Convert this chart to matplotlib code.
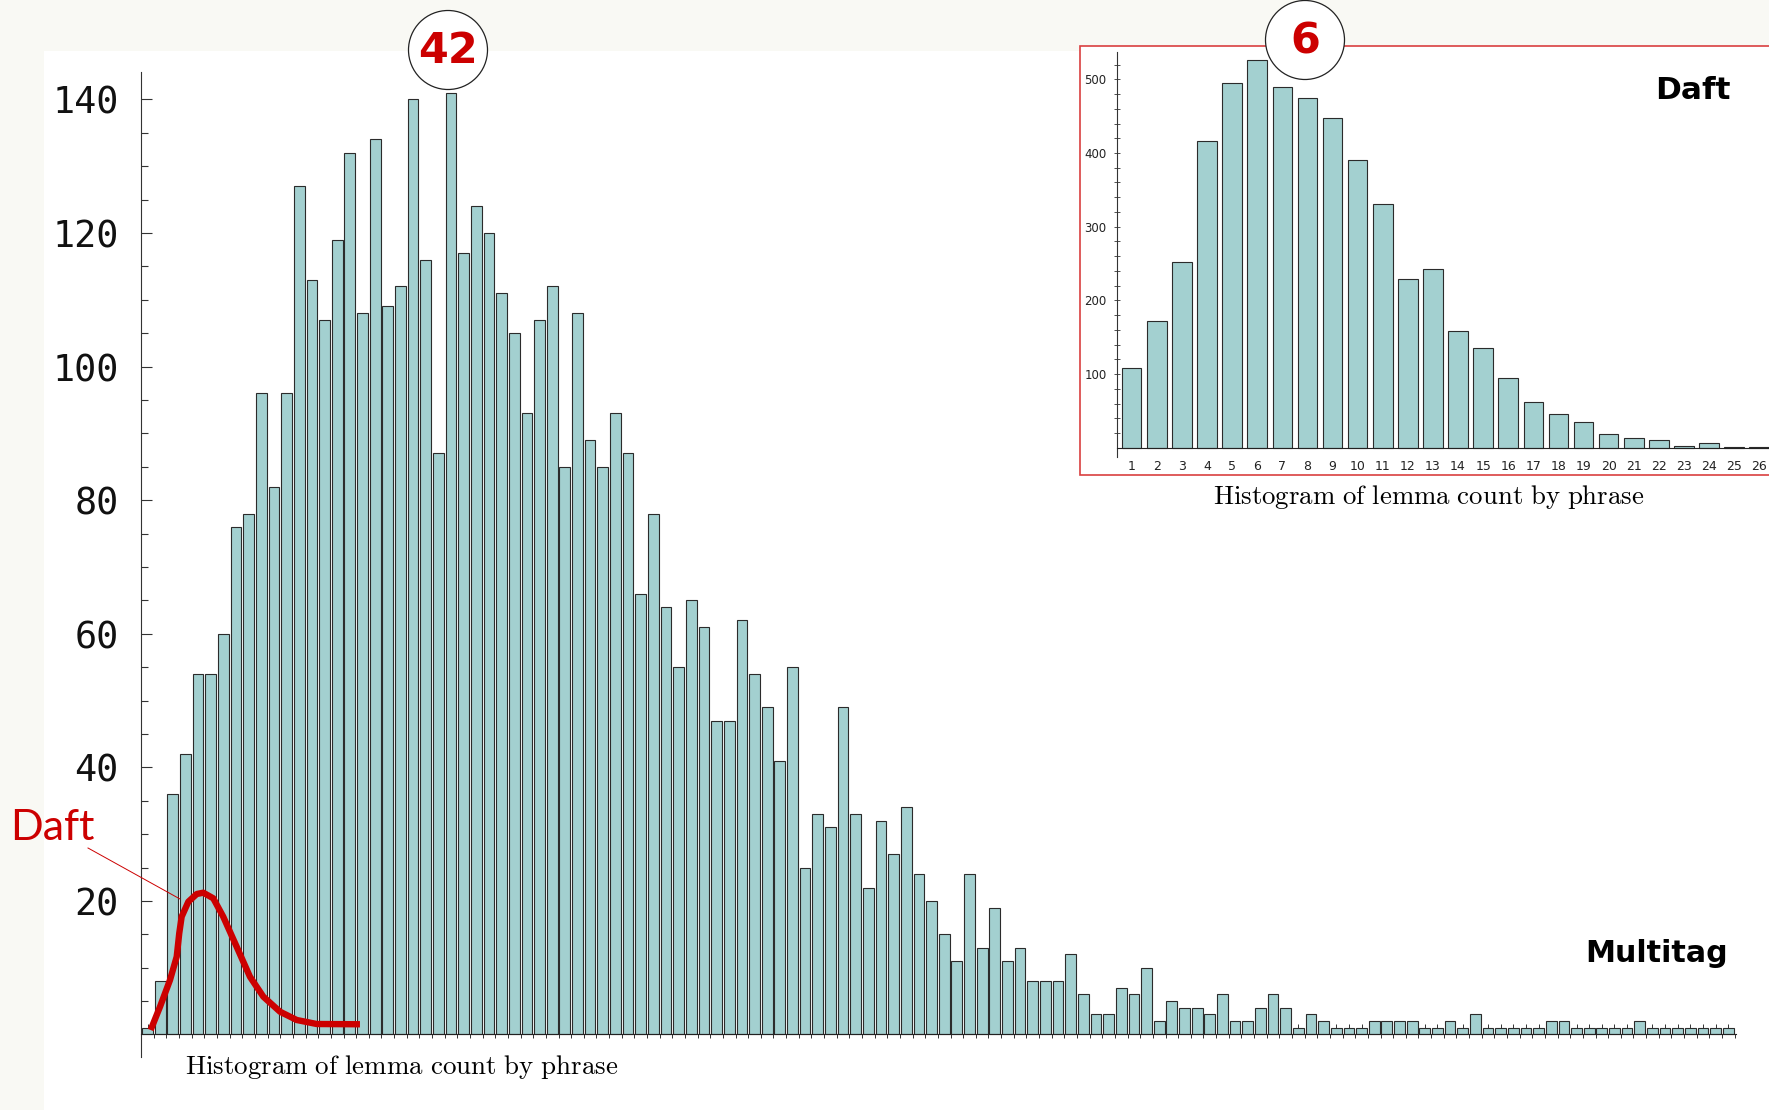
import numpy as np
import matplotlib.pyplot as plt
from matplotlib.patches import Rectangle, Ellipse
from matplotlib.lines import Line2D

plt.rcParams['mathtext.fontset'] = 'cm'

# main histogram (Multitag): phrase count per lemma count
multitag_counts = [1, 8, 36, 42, 54, 54, 60, 76, 78, 96, 82, 96, 127, 113, 107, 119,
                   132, 108, 134, 109, 112, 140, 116, 87, 141, 117, 124, 120, 111, 105,
                   93, 107, 112, 85, 108, 89, 85, 93, 87, 66, 78, 64, 55, 65, 61, 47,
                   47, 62, 54, 49, 41, 55, 25, 33, 31, 49, 33, 22, 32, 27, 34, 24, 20,
                   15, 11, 24, 13, 19, 11, 13, 8, 8, 8, 12, 6, 3, 3, 7, 6, 10, 2, 5, 4,
                   4, 3, 6, 2, 2, 4, 6, 4, 1, 3, 2, 1, 1, 1, 2, 2, 2, 2, 1, 1, 2, 1, 3,
                   1, 1, 1, 1, 1, 2, 2, 1, 1, 1, 1, 1, 2, 1, 1, 1, 1, 1, 1, 1]

# inset histogram (Daft)
daft_counts = [108, 172, 252, 416, 495, 526, 489, 475, 447, 391, 331, 229, 242,
               158, 135, 94, 62, 46, 35, 19, 13, 11, 2, 7, 1, 1]
daft_labels = [str(i) for i in range(1, 27)]

# hand-drawn red "Daft" curve laid over the main chart (bar units, counts)
daft_curve_x = [1.25, 1.99, 2.78, 3.31, 3.51, 3.70, 4.23, 4.89, 5.41, 6.20, 6.99,
                8.05, 9.10, 10.16, 11.48, 12.80, 14.38, 17.80]
daft_curve_y = [0.67, 4.16, 8.16, 11.65, 15.15, 17.63, 19.88, 21.03, 21.23, 20.39,
                17.63, 13.14, 8.65, 5.66, 3.41, 2.17, 1.57, 1.53]

caption = r'$\mathrm{Histogram\ of\ lemma\ count\ by\ phrase}$'
bar_color = '#a3d0d0'
red = '#cc0000'

W, H = 1769, 1110
fig = plt.figure(figsize=(W / 100, H / 100), dpi=100, facecolor='#f9f9f4')


def fx(px):
    return px / W


def fy(py):
    return 1 - py / H


fig.add_artist(Rectangle((fx(44), 0), 1 - fx(44), fy(51), transform=fig.transFigure,
                         facecolor='white', edgecolor='none', zorder=-5))

# ---- main chart
ax = fig.add_axes([fx(140.7), fy(1057), fx(1736) - fx(140.7), fy(72) - fy(1057)])
ax.patch.set_alpha(0)
x = np.arange(1, len(multitag_counts) + 1)
ax.bar(x, multitag_counts, width=0.85, color=bar_color, edgecolor='#2b2b2b',
       linewidth=0.8, zorder=2)
ax.set_xlim(0.462, 126.61)
ax.set_ylim(-3.37, 144.1)
for s in ['top', 'right']:
    ax.spines[s].set_visible(False)
ax.spines['bottom'].set_position(('data', 0))
ax.spines['bottom'].set_color('#222222')
ax.spines['left'].set_color('#333333')
ax.set_axisbelow(True)
ax.set_yticks(range(20, 141, 20))
ax.set_yticks(range(5, 145, 5), minor=True)
ax.tick_params(axis='y', which='major', direction='in', length=7.7, width=0.8,
               pad=16, labelsize=26.5, colors='#333333', labelcolor='#111111')
ax.tick_params(axis='y', which='minor', direction='in', length=4.7, width=0.8, colors='#333333')
for lab in ax.get_yticklabels():
    lab.set_family('DejaVu Sans Mono')
ax.set_xticks(x)
ax.set_xticks(x + 0.5, minor=True)
ax.tick_params(axis='x', which='major', direction='in', length=7.5, width=0.7,
               labelbottom=False, colors='#333333')
ax.tick_params(axis='x', which='minor', direction='out', length=3, width=0.7, colors='#333333')

ax.plot(daft_curve_x, daft_curve_y, color=red, lw=4.6, zorder=5,
        solid_joinstyle='round', solid_capstyle='butt', clip_on=False)

fig.text(fx(185), fy(1067), caption, fontsize=19.4, ha='left', va='center')
fig.text(fx(1727.5), fy(953), 'Multitag', fontsize=21.7, fontweight='bold',
         ha='right', va='center')

fig.text(fx(10), fy(828), 'Daft', color=red, fontsize=31, family='Lato',
         ha='left', va='center')
fig.add_artist(Line2D([fx(88), fx(180)], [fy(848), fy(899)], color=red, lw=0.7))

# ---- inset
fig.add_artist(Rectangle((fx(1080), fy(475)), fx(1790) - fx(1080), fy(46) - fy(475),
                         transform=fig.transFigure, facecolor='white',
                         edgecolor='#d94040', lw=1.2, zorder=1))
ax2 = fig.add_axes([fx(1116.8), fy(457), fx(1774.3) - fx(1116.8), fy(51.7) - fy(457)],
                   zorder=2)
ax2.patch.set_alpha(0)
xi = np.arange(1, len(daft_counts) + 1)
ax2.bar(xi, daft_counts, width=0.78, color=bar_color, edgecolor='#2b2b2b',
        linewidth=0.8, zorder=2)
ax2.set_xlim(0.406, 26.6)
ax2.set_ylim(-12.6, 537.5)
for s in ['top', 'right']:
    ax2.spines[s].set_visible(False)
ax2.spines['bottom'].set_position(('data', 0))
ax2.spines['bottom'].set_color('#222222')
ax2.spines['left'].set_color('#333333')
ax2.set_yticks(range(100, 501, 100))
ax2.set_yticks(range(20, 540, 20), minor=True)
ax2.tick_params(axis='y', which='both', direction='inout', length=4.5, width=0.6,
                pad=5, labelsize=8.5, colors='#333333', labelcolor='#222222')
ax2.set_xticks(xi)
ax2.set_xticklabels(daft_labels)
ax2.tick_params(axis='x', length=0, pad=9, labelsize=9, labelcolor='#222222')
fig.text(fx(1731), fy(90), 'Daft', fontsize=22.5, fontweight='bold', ha='right', va='center')
fig.text(fx(1428.5), fy(497), caption, fontsize=19.3, ha='center', va='center')

# ---- circled mode numbers
for cx, cy, lab in [(448, 50, '42'), (1305, 40, '6')]:
    fig.add_artist(Ellipse((fx(cx), fy(cy)), 79 / W, 79 / H, transform=fig.transFigure,
                           facecolor='white', edgecolor='#222222', lw=0.9, zorder=10))
    fig.text(fx(cx), fy(cy + 1), lab, color=red, fontsize=31, fontweight='bold',
             ha='center', va='center', zorder=11)

fig.savefig('out.png', dpi=100, facecolor=fig.get_facecolor())
